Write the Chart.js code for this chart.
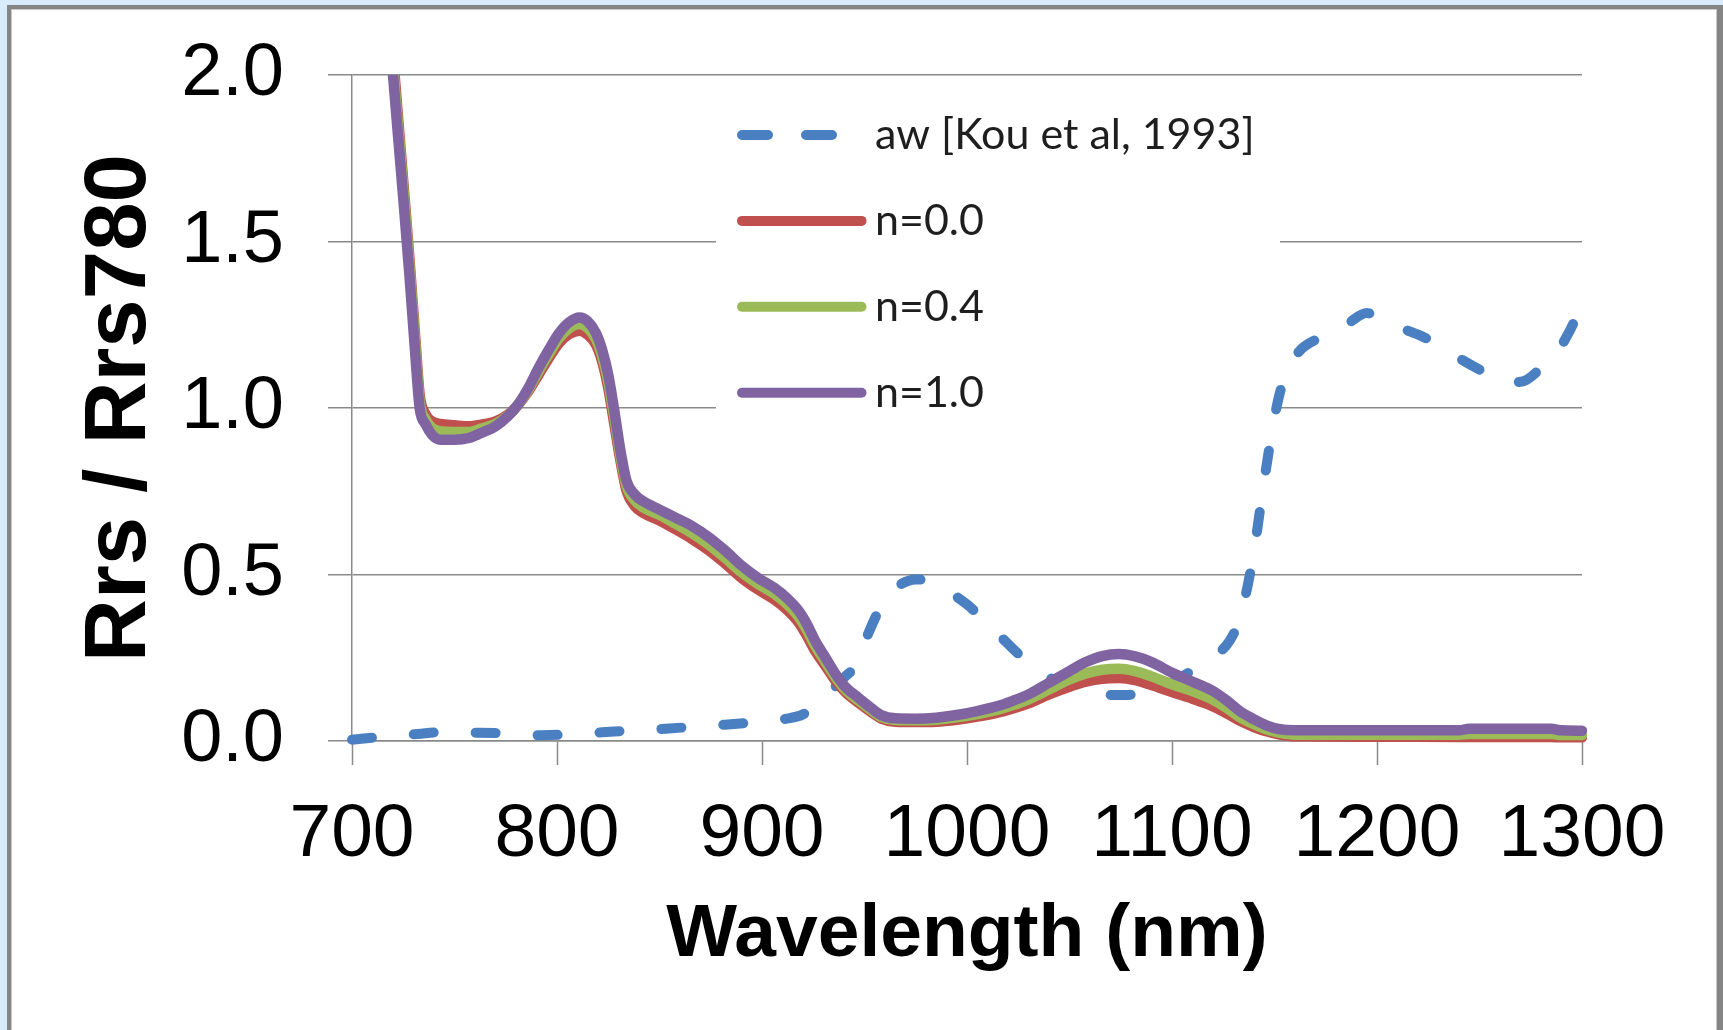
<!DOCTYPE html>
<html><head><meta charset="utf-8">
<script src="https://cdn.jsdelivr.net/npm/chart.js@4.4.0/dist/chart.umd.min.js"></script>
<style>
html,body{margin:0;padding:0;background:#d8ecfb;width:1723px;height:1030px;overflow:hidden}
#frame{position:absolute;left:7px;top:5px;width:1716px;height:1100px;box-sizing:border-box;background:#fff;border-left:4px solid #858585;border-top:4px solid #858585;border-right:6px solid #858585;box-shadow:inset 1px 1px 0 #c9c9c9, inset -1px 0 0 #c9c9c9}
#c{position:absolute;left:0;top:0}
</style></head><body><div id="frame"></div><canvas id="c" width="1723" height="1030"></canvas>
<script>
// ---- data ----
const wavelengths = [715,720,725,728,731,733,736,739,743,750,
  757,763,770,776,781,786,791,796,801,806,
  811,815,819,822,825,828,831,834,838,842,
  850,858,866,874,882,890,898,906,912,918,
  922,926,931,936,941,947,953,958,965,975,
  985,995,1005,1015,1022,1030,1040,1050,1058,1066,
  1074,1082,1090,1100,1110,1120,1127,1133,1140,1146,
  1152,1160,1200,1240,1245,1285,1290,1300];
const rrsN00 = [2.45,2.06,1.68,1.45,1.20,1.04,0.98,0.96,0.952,0.948,
  0.945,0.95,0.96,0.98,1.01,1.05,1.10,1.15,1.195,1.222,
  1.232,1.22,1.19,1.14,1.06,0.95,0.84,0.75,0.705,0.685,
  0.662,0.635,0.606,0.573,0.533,0.49,0.455,0.425,0.395,0.355,
  0.315,0.27,0.225,0.18,0.145,0.115,0.088,0.068,0.058,0.057,
  0.058,0.064,0.073,0.085,0.097,0.113,0.14,0.163,0.178,0.187,
  0.189,0.183,0.168,0.147,0.127,0.104,0.082,0.061,0.042,0.029,
  0.02,0.014,0.013,0.012,0.012,0.012,0.011,0.011];
const rrsN04 = [2.43,2.03,1.66,1.43,1.18,1.02,0.965,0.94,0.93,0.928,
  0.928,0.938,0.952,0.977,1.01,1.055,1.11,1.162,1.21,1.24,
  1.252,1.24,1.207,1.157,1.08,0.97,0.855,0.765,0.722,0.702,
  0.679,0.652,0.624,0.59,0.55,0.507,0.472,0.442,0.412,0.372,
  0.332,0.285,0.237,0.19,0.152,0.122,0.094,0.073,0.063,0.062,
  0.064,0.071,0.081,0.094,0.107,0.125,0.155,0.185,0.203,0.214,
  0.217,0.21,0.194,0.17,0.15,0.124,0.098,0.072,0.05,0.035,
  0.025,0.019,0.019,0.019,0.021,0.021,0.018,0.018];
const rrsN10 = [2.40,2.00,1.63,1.40,1.15,1.00,0.95,0.92,0.905,0.905,
  0.91,0.925,0.945,0.975,1.01,1.06,1.12,1.175,1.225,1.258,
  1.272,1.26,1.225,1.175,1.10,0.99,0.87,0.78,0.74,0.72,
  0.695,0.67,0.645,0.612,0.572,0.527,0.49,0.46,0.43,0.39,
  0.35,0.30,0.25,0.20,0.16,0.13,0.10,0.078,0.068,0.067,
  0.07,0.078,0.09,0.105,0.12,0.14,0.175,0.21,0.237,0.255,
  0.261,0.254,0.237,0.205,0.178,0.15,0.12,0.09,0.065,0.047,
  0.036,0.032,0.032,0.032,0.037,0.037,0.032,0.031];
const awWavelengths = [700,710,720,732,742,760,775,793,805,822,
  835,853,865,882,896,913,920,925,932,940,
  946,951,956,961,967,975,983,992,1000,1008,
  1017,1025,1033,1042,1052,1062,1072,1082,1092,1100,
  1108,1116,1123,1128,1132,1136,1140,1144,1148,1152,
  1156,1162,1170,1178,1186,1195,1203,1212,1222,1230,
  1240,1250,1258,1265,1272,1280,1287,1293,1300];
const awValues = [0.004,0.01,0.017,0.021,0.026,0.025,0.023,0.017,0.02,0.026,
  0.031,0.037,0.042,0.049,0.056,0.068,0.08,0.1,0.14,0.19,
  0.23,0.31,0.38,0.435,0.468,0.485,0.478,0.445,0.41,0.365,
  0.31,0.262,0.22,0.185,0.16,0.145,0.138,0.14,0.155,0.175,
  0.205,0.235,0.265,0.30,0.35,0.44,0.57,0.74,0.90,1.03,
  1.11,1.17,1.205,1.23,1.255,1.285,1.265,1.24,1.215,1.19,
  1.15,1.115,1.09,1.077,1.082,1.12,1.16,1.22,1.31];
const xTickValues = [700,800,900,1000,1100,1200,1300];
const yTickValues = [0,0.5,1.0,1.5,2.0];
const seriesLabels = ['aw [Kou et al, 1993]','n=0.0','n=0.4','n=1.0'];
const seriesColors = ['#4a7fc1','#c0504d','#9bbb59','#8064a2'];

const toXY = (xs, ys) => xs.map((x, i) => ({x: x, y: ys[i]}));

const legendPlugin = {
  id: 'boxLegend',
  beforeDatasetsDraw(chart) {
    const ctx = chart.ctx;
    ctx.save();
    ctx.fillStyle = '#ffffff';
    ctx.fillRect(716, 98, 564, 330);
    chart.data.datasets.forEach((ds, i) => {
      const y = 135 + i * 85.9;
      const dashed = ds.borderDash && ds.borderDash.length;
      ctx.beginPath();
      ctx.lineWidth = 10;
      ctx.lineCap = 'round';
      ctx.strokeStyle = ds.borderColor;
      ctx.setLineDash(dashed ? [26, 38] : []);
      ctx.moveTo(742, y);
      ctx.lineTo(dashed ? 833 : 861.5, y);
      ctx.stroke();
      ctx.setLineDash([]);
      ctx.fillStyle = '#1e1e1e';
      ctx.font = '43px Lato';
      ctx.textAlign = 'left';
      ctx.textBaseline = 'alphabetic';
      ctx.fillText(ds.label, 875, y + 14);
    });
    ctx.restore();
  }
};

const lineBase = {borderWidth: 10.5, pointRadius: 0, fill: false, cubicInterpolationMode: 'monotone',
  borderCapStyle: 'round', borderJoinStyle: 'round', clip: {left: 5, top: 0, right: 5, bottom: 5}};

new Chart(document.getElementById('c'), {
  type: 'line',
  data: {
    datasets: [
      Object.assign({}, lineBase, {label: seriesLabels[0], data: toXY(awWavelengths, awValues), borderColor: seriesColors[0], borderWidth: 10, borderDash: [20, 42], order: 4}),
      Object.assign({}, lineBase, {label: seriesLabels[1], data: toXY(wavelengths, rrsN00), borderColor: seriesColors[1], borderDash: [], order: 3}),
      Object.assign({}, lineBase, {label: seriesLabels[2], data: toXY(wavelengths, rrsN04), borderColor: seriesColors[2], borderDash: [], order: 2}),
      Object.assign({}, lineBase, {label: seriesLabels[3], data: toXY(wavelengths, rrsN10), borderColor: seriesColors[3], borderDash: [], order: 1})
    ]
  },
  options: {
    responsive: false,
    animation: false,
    devicePixelRatio: 1,
    layout: {padding: {top: 75, right: 141, left: 0, bottom: 0}},
    plugins: {legend: {display: false}, tooltip: {enabled: false}},
    scales: {
      x: {
        type: 'linear', min: 700, max: 1300,
        afterBuildTicks: s => { s.ticks = xTickValues.map(v => ({value: v})); },
        afterFit: s => { s.height = 289; },
        grid: {drawOnChartArea: false, drawTicks: true, tickLength: 24, color: '#8a8a8a', tickWidth: 1.5},
        border: {display: true, color: '#8a8a8a', width: 1.5},
        ticks: {autoSkip: false, maxRotation: 0, minRotation: 0, padding: 25, color: '#000',
          font: {family: 'Liberation Sans', size: 75, lineHeight: 1.2}, callback: v => String(v)},
        title: {display: true, text: 'Wavelength (nm)', color: '#000',
          font: {family: 'Liberation Sans', size: 75, weight: 'bold', lineHeight: 1.2}, padding: {top: 0, bottom: 50}}
      },
      y: {
        type: 'linear', min: 0, max: 2,
        afterBuildTicks: s => { s.ticks = yTickValues.map(v => ({value: v})); },
        afterFit: s => { s.width = 352; s.paddingTop = 0; s.paddingBottom = 0; },
        grid: {drawOnChartArea: true, drawTicks: true, tickLength: 24, color: '#8a8a8a', lineWidth: 1.5, tickWidth: 1.5},
        border: {display: true, color: '#8a8a8a', width: 1.5},
        ticks: {padding: 44, color: '#000', font: {family: 'Liberation Sans', size: 74, lineHeight: 1.2},
          callback: v => Number(v).toFixed(1)},
        title: {display: true, text: 'Rrs / Rrs780', color: '#000',
          font: {family: 'Liberation Sans', size: 87, weight: 'bold', lineHeight: 1.2}, padding: {top: 69, bottom: 0}}
      }
    }
  },
  plugins: [legendPlugin]
});
</script></body></html>
